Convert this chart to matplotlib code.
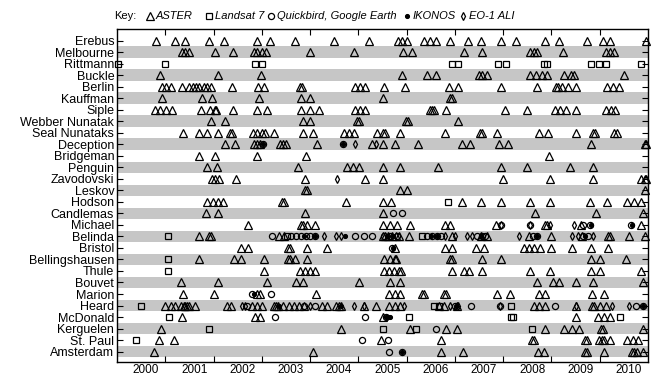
import matplotlib
matplotlib.use("Agg")
import matplotlib.pyplot as plt

plt.rcParams['font.family'] = ['Liberation Sans', 'DejaVu Sans']

volcanoes = ["Erebus", "Melbourne", "Rittmann", "Buckle", "Berlin", "Kauffman",
             "Siple", "Webber Nunatak", "Seal Nunataks", "Deception", "Bridgeman",
             "Penguin", "Zavodovski", "Leskov", "Hodson", "Candlemas", "Michael",
             "Belinda", "Bristol", "Bellingshausen", "Thule", "Bouvet", "Marion",
             "Heard", "McDonald", "Kerguelen", "St. Paul", "Amsterdam"]

year_labels = [str(y) for y in range(2000, 2011)]

# image dates (decimal years) for each sensor, per volcano
aster = {
    "Erebus": [2000.81, 2001.20, 2001.41, 2001.91, 2002.21, 2002.89, 2003.16, 2003.68,
               2004.49, 2005.21, 2005.83, 2005.91, 2006.00, 2006.37, 2006.49, 2006.61,
               2006.89, 2007.27, 2007.54, 2007.95, 2008.27, 2008.87, 2009.16, 2009.74,
               2010.06, 2010.21, 2010.95],
    "Melbourne": [2001.34, 2001.41, 2001.49, 2002.02, 2002.41, 2002.84, 2002.91, 2003.00,
                  2003.09, 2004.00, 2004.91, 2005.93, 2006.11, 2007.18, 2007.57, 2008.56,
                  2008.63, 2008.70, 2009.23, 2010.14, 2010.21, 2010.29],
    "Buckle": [2000.89, 2002.09, 2002.99, 2005.91, 2006.43, 2006.61, 2007.49, 2007.56,
               2007.66, 2008.56, 2008.68, 2008.80, 2008.91, 2009.25, 2009.41, 2009.46,
               2010.50],
    "Berlin": [2000.94, 2001.01, 2001.11, 2001.34, 2001.50, 2001.57, 2001.63, 2001.70,
               2001.80, 2001.87, 2001.94, 2002.39, 2002.93, 2003.04, 2003.80, 2003.84,
               2004.93, 2005.04, 2005.14, 2005.54, 2005.96, 2006.87, 2007.07, 2007.95,
               2008.71, 2009.10, 2009.14, 2009.21, 2009.34, 2009.50, 2010.16, 2010.27,
               2010.39],
    "Kauffman": [2000.93, 2001.77, 2001.96, 2002.94, 2003.82, 2004.00, 2005.50, 2006.89,
                 2006.93],
    "Siple": [2000.79, 2000.89, 2001.01, 2001.13, 2001.75, 2001.93, 2002.02, 2002.06,
              2002.41, 2002.91, 2003.11, 2003.82, 2004.00, 2004.18, 2004.94, 2005.04,
              2005.13, 2006.48, 2006.52, 2006.56, 2006.82, 2008.04, 2008.49, 2009.07,
              2009.18, 2009.30, 2009.50, 2010.14, 2010.23, 2010.32],
    "Webber Nunatak": [2001.94, 2002.24, 2003.86, 2003.99, 2004.97, 2005.01, 2005.98,
                       2006.02, 2007.07],
    "Seal Nunataks": [2001.36, 2001.70, 2001.87, 2002.09, 2002.34, 2002.39, 2002.82,
                      2002.91, 2003.00, 2003.07, 2003.25, 2003.86, 2004.07, 2004.70,
                      2004.80, 2004.91, 2005.39, 2005.52, 2005.56, 2005.86, 2006.79,
                      2007.52, 2007.56, 2007.87, 2008.75, 2008.93, 2009.51, 2009.87,
                      2009.91, 2010.29, 2010.36],
    "Deception": [2002.24, 2002.44, 2002.84, 2002.91, 2002.96, 2003.37, 2003.43, 2003.50,
                  2004.14, 2005.29, 2005.50, 2005.75, 2006.24, 2007.14, 2007.32, 2007.91,
                  2008.11, 2009.82, 2010.93, 2010.95],
    "Bridgeman": [2001.70, 2002.04, 2002.89, 2003.91, 2008.94],
    "Penguin": [2001.86, 2002.07, 2003.74, 2004.77, 2004.89, 2005.01, 2005.50, 2005.86,
                2006.66, 2007.95, 2008.50, 2009.39, 2009.87],
    "Zavodovski": [2001.96, 2002.02, 2002.11, 2002.46, 2003.89, 2005.13, 2005.50, 2007.99,
                   2008.96, 2009.87, 2010.86, 2010.93, 2010.96],
    "Leskov": [2003.89, 2003.93, 2005.87, 2006.01, 2010.93],
    "Hodson": [2001.86, 2001.98, 2002.09, 2002.19, 2003.41, 2003.45, 2004.75, 2005.50,
               2005.68, 2007.14, 2007.54, 2007.96, 2008.56, 2008.96, 2009.79, 2010.16,
               2010.57, 2010.71, 2010.86],
    "Candlemas": [2001.84, 2002.09, 2003.89, 2005.50, 2008.66, 2009.93, 2010.89],
    "Michael": [2002.71, 2003.82, 2003.86, 2003.94, 2004.11, 2005.51, 2005.66, 2005.80,
                2006.07, 2006.79, 2006.89, 2007.86, 2008.87, 2008.91, 2009.61, 2010.86],
    "Belinda": [2001.70, 2001.91, 2001.95, 2003.36, 2003.46, 2005.50, 2005.56, 2005.62,
                2005.70, 2005.78, 2005.84, 2006.04, 2006.93, 2007.54, 2007.66, 2008.54,
                2008.99, 2009.64, 2010.18, 2010.21, 2010.61, 2010.93],
    "Bristol": [2002.56, 2002.71, 2003.55, 2003.59, 2003.93, 2004.36, 2005.75, 2006.79,
                2006.94, 2007.43, 2007.61, 2008.43, 2008.54, 2008.64, 2008.77, 2008.99,
                2009.43, 2009.82, 2010.18],
    "Bellingshausen": [2001.70, 2002.43, 2002.57, 2003.04, 2003.55, 2003.59, 2003.68,
                       2003.93, 2005.54, 2005.66, 2005.75, 2005.79, 2006.89, 2006.93,
                       2007.56, 2007.96, 2009.82, 2010.00, 2010.54],
    "Thule": [2003.04, 2003.80, 2003.89, 2004.00, 2004.11, 2005.54, 2005.63, 2005.73,
              2005.84, 2005.88, 2006.93, 2007.18, 2007.29, 2007.56, 2008.56, 2008.96,
              2009.82, 2010.01, 2010.86],
    "Bouvet": [2001.32, 2002.09, 2003.11, 2003.71, 2003.86, 2005.01, 2005.66, 2005.86,
               2008.70, 2009.04, 2009.16, 2009.50, 2009.87, 2010.89],
    "Marion": [2001.36, 2002.01, 2002.89, 2002.96, 2004.13, 2005.64, 2005.75, 2005.87,
               2006.32, 2006.36, 2006.77, 2006.81, 2007.87, 2008.14, 2008.75, 2008.87,
               2009.84, 2010.09],
    "Heard": [2000.99, 2001.11, 2001.21, 2001.32, 2001.38, 2001.41, 2001.46, 2001.49,
              2001.61, 2002.27, 2002.37, 2002.79, 2002.89, 2003.00, 2003.25, 2003.30,
              2003.34, 2003.44, 2003.56, 2003.66, 2003.77, 2003.87, 2004.25, 2004.36,
              2004.54, 2004.60, 2004.63, 2005.11, 2005.36, 2005.63, 2005.75, 2005.86,
              2006.68, 2006.77, 2007.04, 2008.63, 2008.75, 2008.87, 2009.50, 2009.85,
              2009.88, 2010.00, 2010.13],
    "McDonald": [2001.34, 2002.86, 2002.96, 2005.50, 2009.50, 2009.96, 2010.09, 2010.21],
    "Kerguelen": [2000.91, 2004.63, 2006.07, 2006.82, 2007.04, 2008.86, 2009.27, 2009.43,
                  2009.57, 2010.02, 2010.06, 2010.89],
    "St. Paul": [2000.86, 2001.18, 2005.46, 2006.71, 2008.59, 2008.63, 2009.69, 2009.73,
                 2009.99, 2010.04, 2010.09, 2010.21, 2010.57, 2010.68, 2010.79],
    "Amsterdam": [2000.77, 2004.07, 2006.71, 2007.16, 2008.73, 2008.84, 2009.69, 2009.73,
                  2010.09, 2010.66, 2010.70, 2010.77, 2010.89],
}

landsat = {
    "Rittmann": [2000.02, 2000.99, 2002.86, 2003.00, 2006.93, 2007.06, 2007.89, 2008.06,
                 2008.84, 2008.91, 2009.82, 2009.99, 2010.14, 2010.86],
    "Hodson": [2006.86],
    "Belinda": [2001.06, 2003.52, 2006.32],
    "Bellingshausen": [2001.06],
    "Thule": [2001.06],
    "Heard": [2000.50, 2006.57, 2006.68, 2008.16],
    "McDonald": [2001.07, 2006.04, 2008.16, 2008.20, 2010.43],
    "Kerguelen": [2001.91, 2005.50, 2006.20, 2008.59],
    "St. Paul": [2000.39],
}

quickbird = {
    "Deception": [2003.02, 2004.68],
    "Candlemas": [2005.71, 2005.91],
    "Michael": [2007.96, 2008.56, 2009.66, 2009.80, 2010.64],
    "Belinda": [2003.21, 2003.60, 2003.71, 2003.82, 2003.91, 2004.00, 2004.11, 2004.93,
                2005.11, 2005.29, 2005.53, 2005.66, 2005.80, 2006.42, 2006.52, 2006.62,
                2006.72, 2007.46, 2007.57, 2007.62, 2008.62, 2008.71, 2009.66, 2009.75],
    "Bristol": [2005.69],
    "Marion": [2002.79, 2003.20],
    "Heard": [2002.70, 2003.87, 2004.11, 2007.00, 2007.34, 2007.93, 2009.07, 2010.75,
              2010.89],
    "McDonald": [2003.27, 2005.14, 2005.57],
    "Kerguelen": [2006.61],
    "St. Paul": [2005.07, 2005.61],
    "Amsterdam": [2005.63, 2005.91],
}

ikonos = {
    "Deception": [2003.02, 2004.68],
    "Michael": [2009.82, 2010.66],
    "Belinda": [2003.87, 2004.11, 2004.73, 2005.60, 2005.72, 2006.50, 2006.62, 2007.55,
                2008.71, 2009.70],
    "Bristol": [2005.71],
    "Marion": [2002.84],
    "Heard": [2003.36, 2004.63, 2007.02, 2010.89],
    "McDonald": [2005.57, 2005.62, 2005.66],
    "Amsterdam": [2005.91],
}

ali = {
    "Deception": [2004.93, 2005.36],
    "Zavodovski": [2004.56],
    "Michael": [2007.96, 2008.56, 2008.98, 2009.46],
    "Belinda": [2004.29, 2004.54, 2004.64, 2006.80, 2007.00, 2007.25, 2007.36, 2008.32,
                2009.43, 2009.54, 2009.86],
    "Heard": [2002.59, 2002.66, 2003.99, 2004.91, 2005.11, 2005.95, 2006.89, 2007.07,
              2007.93, 2009.50, 2010.25, 2010.61],
}

# marker style for each sensor: (name, data, marker, size, face)
sensors = [
    ("ASTER", aster, "^", 5.2, "none"),
    ("Landsat 7", landsat, "s", 3.8, "none"),
    ("Quickbird, Google Earth", quickbird, "o", 4.4, "none"),
    ("IKONOS", ikonos, "o", 2.8, "black"),
    ("EO-1 ALI", ali, "d", 4.0, "none"),
]

fig = plt.figure(figsize=(6.56, 3.76), dpi=100)
ax = fig.add_axes([117 / 656, 14 / 376, 531 / 656, 333 / 376])

n = len(volcanoes)
ypos = {name: n - i for i, name in enumerate(volcanoes)}

# alternating grey bands behind every second volcano
for i, name in enumerate(volcanoes):
    if i % 2 == 1:
        ax.axhspan(ypos[name] - 0.5, ypos[name] + 0.5, color="#c6c6c6", lw=0, zorder=0)

for label, data, marker, size, face in sensors:
    for name, dates in data.items():
        ax.plot(dates, [ypos[name]] * len(dates), linestyle="none", marker=marker,
                markersize=size, markerfacecolor=face, markeredgecolor="black",
                markeredgewidth=0.9, clip_on=False, zorder=3)

ax.set_xlim(2000, 2011)
ax.set_ylim(0.1, n + 1)

ax.set_yticks([ypos[v] for v in volcanoes])
ax.set_yticklabels(volcanoes, fontsize=9)

# year ticks at the year boundaries, labels centred in each year
ax.set_xticks(range(2001, 2011))
ax.set_xticklabels([])
ax.set_xticks([y + 0.6 for y in range(2000, 2011)], minor=True)
ax.set_xticklabels(year_labels, minor=True, fontsize=8.5)
ax.tick_params(axis="x", which="minor", length=0, pad=1.5)
ax.tick_params(axis="both", which="major", direction="in", length=4, width=0.8,
               top=True, right=True)
ax.tick_params(axis="y", pad=2)

for sp in ax.spines.values():
    sp.set_linewidth(1.0)

# key along the top
ky = 1 - 16 / 376
fig.text(114 / 656, ky, "Key:", fontsize=8, va="center", ha="left")
key_items = [
    (150, "^", 5.2, "none", "ASTER"),
    (209, "s", 3.8, "none", "Landsat 7"),
    (271, "o", 4.4, "none", "Quickbird, Google Earth"),
    (407, "o", 2.8, "black", "IKONOS"),
    (463, "d", 4.0, "none", "EO-1 ALI"),
]
for px, marker, size, face, text in key_items:
    fig.add_artist(plt.Line2D([px / 656], [ky], marker=marker, markersize=size,
                              markerfacecolor=face, markeredgecolor="black",
                              markeredgewidth=0.9, linestyle="none",
                              transform=fig.transFigure))
    fig.text((px + 6) / 656, ky, text, fontsize=8, style="italic",
             va="center", ha="left")

fig.savefig("out.png", dpi=100)
